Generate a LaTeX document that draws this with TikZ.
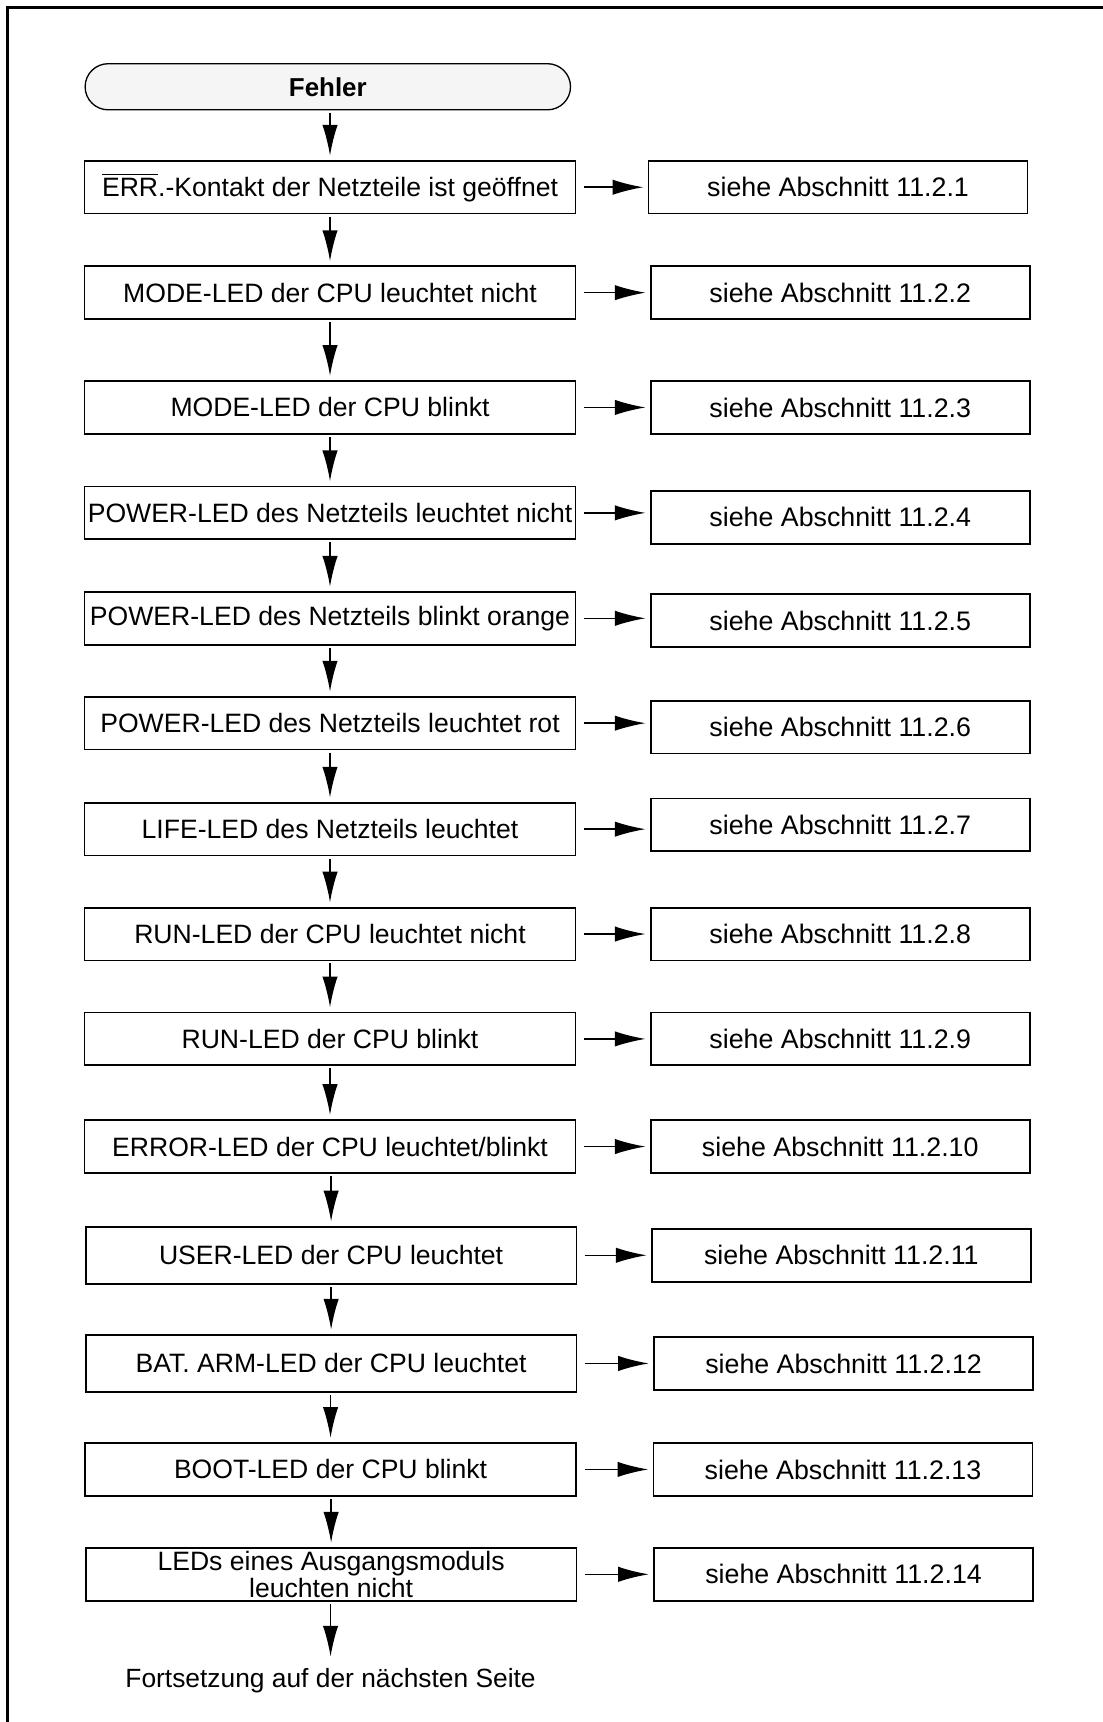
\documentclass[tikz,border=0pt]{standalone}
\usepackage{fontspec}
\setmainfont{Liberation Sans}
\usepackage{amsmath}
\usetikzlibrary{arrows.meta, positioning}

\begin{document}
\begin{tikzpicture}[x=0.5pt, y=-0.5pt, node distance=33.5pt,
    fault/.style={draw, line width=0.8pt, minimum width=223.5pt, minimum height=24pt, inner sep=0pt, align=center, font=\fontsize{12.1}{11}\selectfont},
    hint/.style={draw, line width=0.8pt, minimum width=172.5pt, minimum height=24pt, inner sep=0pt, font=\fontsize{12.2}{13}\selectfont},
    startbox/.style={draw, line width=0.6pt, rounded corners=10.5pt, fill=black!4, minimum width=221pt, minimum height=21pt, inner sep=0pt, font=\bfseries\fontsize{11.8}{13}\selectfont},
    down/.style={-{Latex[length=14pt, width=7pt]}, line width=0.7pt, shorten <=1pt, shorten >=2pt},
    side/.style={-{Latex[length=14pt, width=7pt]}, line width=0.7pt, shorten <=3.5pt, shorten >=2pt}]
    \useasboundingbox (0,0) rectangle (1004,1568);
    \draw[line width=1.1pt] (7,1568) -- (7,7) -- (1004,7);

    \node[startbox] (fehler) at (298.5,79) {Fehler};

    \node[fault] (err) at (300.5,170.5) {$\overline{\mbox{ERR}}$.-Kontakt der Netzteile ist geöffnet};
    \node[fault] (modeoff) at (300.5,266.5) {MODE-LED der CPU leuchtet nicht};
    \node[fault] (modeblink) at (300.5,371) {MODE-LED der CPU blinkt};
    \node[fault] (pwroff) at (300.5,467) {POWER-LED des Netzteils leuchtet nicht};
    \node[fault] (pwrorange) at (300.5,563) {POWER-LED des Netzteils blinkt orange};
    \node[fault] (pwrred) at (300.5,658.5) {POWER-LED des Netzteils leuchtet rot};
    \node[fault] (life) at (300.5,755) {LIFE-LED des Netzteils leuchtet};
    \node[fault] (runoff) at (300.5,850.5) {RUN-LED der CPU leuchtet nicht};
    \node[fault] (runblink) at (300.5,946) {RUN-LED der CPU blinkt};
    \node[fault] (error) at (300.5,1044) {ERROR-LED der CPU leuchtet/blinkt};
    \node[fault, minimum height=26pt] (user) at (301.5,1143) {USER-LED der CPU leuchtet};
    \node[fault, minimum height=26pt] (bat) at (301.5,1241.5) {BAT. ARM-LED der CPU leuchtet};
    \node[fault] (boot) at (301,1338) {BOOT-LED der CPU blinkt};
    \node[fault] (leds) at (301.5,1433.5) {LEDs eines Ausgangsmoduls\\leuchten nicht};
    \node[inner sep=0pt, font=\fontsize{12}{14}\selectfont] (cont) at (301,1530) {Fortsetzung auf der nächsten Seite};

    \node[hint, right=of err, xshift=-1pt] (sec1) {siehe Abschnitt 11.2.1};
    \node[hint, right=of modeoff] (sec2) {siehe Abschnitt 11.2.2};
    \node[hint, right=of modeblink] (sec3) {siehe Abschnitt 11.2.3};
    \node[hint, right=of pwroff, yshift=-2pt] (sec4) {siehe Abschnitt 11.2.4};
    \node[hint, right=of pwrorange, yshift=-1pt] (sec5) {siehe Abschnitt 11.2.5};
    \node[hint, right=of pwrred, yshift=-1.75pt] (sec6) {siehe Abschnitt 11.2.6};
    \node[hint, right=of life, yshift=2pt] (sec7) {siehe Abschnitt 11.2.7};
    \node[hint, right=of runoff] (sec8) {siehe Abschnitt 11.2.8};
    \node[hint, right=of runblink] (sec9) {siehe Abschnitt 11.2.9};
    \node[hint, right=of error] (sec10) {siehe Abschnitt 11.2.10};
    \node[hint, right=of user] (sec11) {siehe Abschnitt 11.2.11};
    \node[hint, right=of bat, xshift=1pt] (sec12) {siehe Abschnitt 11.2.12};
    \node[hint, right=of boot, xshift=1pt] (sec13) {siehe Abschnitt 11.2.13};
    \node[hint, right=of leds, xshift=1pt] (sec14) {siehe Abschnitt 11.2.14};

    \draw[down] (fehler.south -| err) -- (err.north);
    \draw[down] (err.south) -- (modeoff.north);
    \draw[down] (modeoff.south) -- (modeblink.north);
    \draw[down] (modeblink.south) -- (pwroff.north);
    \draw[down] (pwroff.south) -- (pwrorange.north);
    \draw[down] (pwrorange.south) -- (pwrred.north);
    \draw[down] (pwrred.south) -- (life.north);
    \draw[down] (life.south) -- (runoff.north);
    \draw[down] (runoff.south) -- (runblink.north);
    \draw[down] (runblink.south) -- (error.north);
    \draw[down] (error.south -| user) -- (user.north);
    \draw[down] (user.south) -- (bat.north);
    \draw[down] (bat.south -| boot) -- (boot.north);
    \draw[down] (boot.south -| leds) -- (leds.north);
    \draw[down, shorten >=5pt] (leds.south -| cont) -- (cont.north);

    \draw[side] (err.east) -- (err.east -| sec1.west);
    \draw[side] (modeoff.east) -- (modeoff.east -| sec2.west);
    \draw[side] (modeblink.east) -- (modeblink.east -| sec3.west);
    \draw[side] (pwroff.east) -- (pwroff.east -| sec4.west);
    \draw[side] (pwrorange.east) -- (pwrorange.east -| sec5.west);
    \draw[side] (pwrred.east) -- (pwrred.east -| sec6.west);
    \draw[side] (life.east) -- (life.east -| sec7.west);
    \draw[side] (runoff.east) -- (runoff.east -| sec8.west);
    \draw[side] (runblink.east) -- (runblink.east -| sec9.west);
    \draw[side] (error.east) -- (error.east -| sec10.west);
    \draw[side] (user.east) -- (user.east -| sec11.west);
    \draw[side] (bat.east) -- (bat.east -| sec12.west);
    \draw[side] (boot.east) -- (boot.east -| sec13.west);
    \draw[side] (leds.east) -- (leds.east -| sec14.west);
\end{tikzpicture}
\end{document}
